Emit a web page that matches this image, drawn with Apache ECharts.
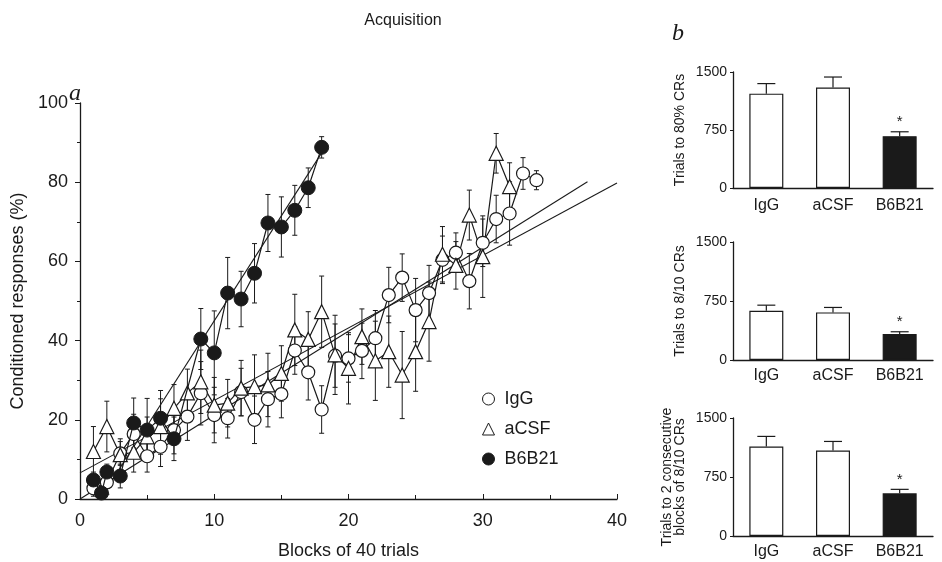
<!DOCTYPE html>
<html><head><meta charset="utf-8">
<script src="https://cdn.jsdelivr.net/npm/echarts@6/dist/echarts.min.js"></script>
<style>html,body{margin:0;padding:0;background:#fff}#c{width:942px;height:562px}</style>
</head><body><div id="c"></div>
<script>
// ---- Panel a: acquisition curves ----
const igGX   = [1,2,3,4,5,6,7,8,9,10,11,12,13,14,15,16,17,18,19,20,21,22,23,24,25,26,27,28,29,30,31,32,33,34];
const igGY   = [2.7,4.2,11.5,16.4,10.8,13.2,17.4,20.8,26.7,21.2,20.4,27,20,25.2,26.5,37.5,32,22.6,36.2,35.5,37.4,40.6,51.5,55.9,47.7,52,60.4,62.2,55,64.7,70.7,72.1,82.2,80.5];
const igGErr = [2,3,3,5,4,5,6,6,8,7,5,6,6,7,6,6,7,6,8,6,7,7,7,6,8,7,6,5,7,6,6,8,4,2.4];

const acsfX   = [1,2,3,4,5,6,7,8,9,10,11,12,13,14,15,16,17,18,19,20,21,22,23,24,25,26,27,28,29,30,31,32];
const acsfY   = [12,18.3,11.2,11.8,15.7,18.3,22.9,26.8,29.6,23.7,24.2,28,28.4,28.8,31.7,42.7,40.3,47.3,36.4,33,41,34.9,37.2,31.3,37.2,44.8,61.8,59,71.7,61.2,87.3,78.9];
const acsfErr = [6.3,6.4,4,5,5,7,6,6,8,7,6,7,8,8,7,9,7,9,10,9,7,10,9,11,10,10,7,6,6.3,10.3,5,6];

const b6X   = [1,1.6,2,3,4,5,6,7,9,10,11,12,13,14,15,16,17,18];
const b6Y   = [4.8,1.5,6.8,5.8,19.2,17.4,20.4,15.2,40.4,36.9,52,50.5,57,69.7,68.7,72.9,78.6,88.8];
const b6Err = [2,1.5,2,3,6.3,8,7,5.5,7.7,10.6,9,7,7.5,7.2,7.6,6.3,5,2.7];

// regression fits: [intercept, slope, xStart, xEnd]
const fitIgG  = [0.0, 2.12, 0, 37.8];
const fitAcsf = [6.6, 1.83, 0, 40];
const fitB6   = [-8.0, 5.3, 1.5, 18];

const xTicks = [0, 10, 20, 30, 40];
const yTicks = [0, 20, 40, 60, 80, 100];

// ---- Panel b: bar charts ----
const barCats   = ['IgG', 'aCSF', 'B6B21'];
const trials80  = [1220, 1300, 670];
const err80     = [130, 135, 57];
const trials810 = [625, 605, 330];
const err810    = [72, 63, 29];
const trials2x  = [1138, 1087, 542];
const err2x     = [128, 115, 51];
const signif    = [0, 0, 1];
const barTicks  = [0, 750, 1500];

const FONT = '"Liberation Sans", Arial, Helvetica, sans-serif';
const INK = '#1a1a1a';

function zip(xs, ys) { return xs.map((x, i) => [x, ys[i]]); }
function zip3(xs, ys, es) { return xs.map((x, i) => [x, ys[i], es[i]]); }
function fitLine(f) { return [[f[2], f[0] + f[1] * f[2]], [f[3], f[0] + f[1] * f[3]]]; }

function errRender(capHalf) {
  return function (params, api) {
    const x = api.value(0), y = api.value(1), e = api.value(2);
    const t = api.coord([x, y + e]), b = api.coord([x, Math.max(0, y - e)]);
    const st = { stroke: INK, lineWidth: 1 };
    return { type: 'group', children: [
      { type: 'line', shape: { x1: t[0], y1: t[1], x2: b[0], y2: b[1] }, style: st },
      { type: 'line', shape: { x1: t[0] - capHalf, y1: t[1], x2: t[0] + capHalf, y2: t[1] }, style: st },
      { type: 'line', shape: { x1: b[0] - capHalf, y1: b[1], x2: b[0] + capHalf, y2: b[1] }, style: st }
    ]};
  };
}
function barErrRender(params, api) {
  const x = api.value(0), y = api.value(1), e = api.value(2), s = api.value(3);
  const t = api.coord([x, y + e]), b = api.coord([x, y]);
  const st = { stroke: INK, lineWidth: 1.2 };
  const ch = [
    { type: 'line', shape: { x1: t[0], y1: t[1], x2: b[0], y2: b[1] }, style: st },
    { type: 'line', shape: { x1: t[0] - 9, y1: t[1], x2: t[0] + 9, y2: t[1] }, style: st }
  ];
  if (s) ch.push({ type: 'text', x: t[0], y: t[1] - 2, style: { text: '*', fill: INK, font: '15px ' + FONT, align: 'center', verticalAlign: 'bottom' } });
  return { type: 'group', children: ch };
}

const chart = echarts.init(document.getElementById('c'), null, { renderer: 'canvas' });

const grids = [
  { left: 80, top: 103, width: 537, height: 396, outerBoundsMode: 'none', containLabel: false },
  { left: 733, top: 72, width: 200, height: 116, outerBoundsMode: 'none', containLabel: false },
  { left: 733, top: 242, width: 200, height: 118, outerBoundsMode: 'none', containLabel: false },
  { left: 733, top: 418, width: 200, height: 118, outerBoundsMode: 'none', containLabel: false }
];

const axLine = { show: true, lineStyle: { color: INK, width: 1.3 } };

const xAxes = [{
  type: 'value', gridIndex: 0, min: xTicks[0], max: xTicks[xTicks.length - 1], interval: 10,
  axisLine: axLine, axisTick: { show: true, inside: true, length: 5, lineStyle: { color: INK } },
  minorTick: { show: true, splitNumber: 2, length: 4, lineStyle: { color: INK } },
  splitLine: { show: false },
  axisLabel: { fontSize: 18, color: INK, fontFamily: FONT, margin: 13 },
  name: 'Blocks of 40 trials', nameLocation: 'middle', nameGap: 43,
  nameTextStyle: { fontSize: 18, color: INK, fontFamily: FONT }
}];
const yAxes = [{
  type: 'value', gridIndex: 0, min: yTicks[0], max: yTicks[yTicks.length - 1], interval: 20,
  axisLine: axLine, axisTick: { show: true, length: 5, lineStyle: { color: INK } },
  minorTick: { show: true, splitNumber: 2, length: 3, lineStyle: { color: INK } },
  splitLine: { show: false },
  axisLabel: { fontSize: 18, color: INK, fontFamily: FONT, margin: 12 },
  name: 'Conditioned responses (%)', nameLocation: 'middle', nameGap: 48, nameRotate: 90,
  nameTextStyle: { fontSize: 18, color: INK, fontFamily: FONT }
}];
const barNames = ['Trials to 80% CRs', 'Trials to 8/10 CRs', 'Trials to 2 consecutive\nblocks of 8/10 CRs'];
for (let g = 1; g <= 3; g++) {
  xAxes.push({
    type: 'category', gridIndex: g, data: barCats,
    axisLine: axLine, axisTick: { show: false },
    axisLabel: { fontSize: 16, color: INK, fontFamily: FONT, margin: g === 1 ? 10 : 8 }
  });
  yAxes.push({
    type: 'value', gridIndex: g, min: barTicks[0], max: barTicks[2], interval: 750,
    axisLine: axLine, axisTick: { show: true, length: 3, lineStyle: { color: INK } },
    splitLine: { show: false },
    axisLabel: { fontSize: 14, color: INK, fontFamily: FONT, margin: 6, formatter: v => String(v) },
    name: barNames[g - 1], nameLocation: 'middle', nameRotate: 90, nameGap: 46,
    nameTextStyle: { fontSize: 14, color: INK, fontFamily: FONT, lineHeight: 13 }
  });
}

const lineStyle = { color: INK, width: 1.2 };
const series = [];
// regression lines
[fitIgG, fitAcsf, fitB6].forEach(f => series.push({
  type: 'line', xAxisIndex: 0, yAxisIndex: 0, data: fitLine(f), showSymbol: false, silent: true,
  lineStyle: { color: INK, width: 1.1 }, z: 1
}));
// error bars
[[igGX, igGY, igGErr], [acsfX, acsfY, acsfErr], [b6X, b6Y, b6Err]].forEach(d => series.push({
  type: 'custom', xAxisIndex: 0, yAxisIndex: 0, renderItem: errRender(2.5),
  data: zip3(d[0], d[1], d[2]), encode: { x: 0, y: 1 }, silent: true, z: 2
}));
series.push({
  name: 'IgG', type: 'line', xAxisIndex: 0, yAxisIndex: 0, data: zip(igGX, igGY),
  symbol: 'circle', symbolSize: 13, lineStyle, itemStyle: { color: '#fff', borderColor: INK, borderWidth: 1.2 }, z: 4
});
series.push({
  name: 'aCSF', type: 'line', xAxisIndex: 0, yAxisIndex: 0, data: zip(acsfX, acsfY),
  symbol: 'triangle', symbolSize: 14, lineStyle, itemStyle: { color: '#fff', borderColor: INK, borderWidth: 1.2 }, z: 4
});
series.push({
  name: 'B6B21', type: 'line', xAxisIndex: 0, yAxisIndex: 0, data: zip(b6X, b6Y),
  symbol: 'circle', symbolSize: 14, lineStyle, itemStyle: { color: INK, borderColor: INK, borderWidth: 1 }, z: 5
});

const barSets = [[trials80, err80], [trials810, err810], [trials2x, err2x]];
barSets.forEach((bs, k) => {
  const g = k + 1;
  series.push({
    type: 'bar', xAxisIndex: g, yAxisIndex: g, barWidth: 34, silent: true,
    data: bs[0].map((v, i) => ({ value: v, itemStyle: { color: i === 2 ? INK : '#fff', borderColor: INK, borderWidth: 1.2 } })),
    z: 2
  });
  series.push({
    type: 'custom', xAxisIndex: g, yAxisIndex: g, renderItem: barErrRender, silent: true,
    data: bs[0].map((v, i) => [i, v, bs[1][i], signif[i]]), encode: { x: 0, y: 1 }, z: 3
  });
});

chart.setOption({
  animation: false,
  backgroundColor: '#fff',
  title: { text: 'Acquisition', left: 398, top: 8, textAlign: 'center',
    textStyle: { fontSize: 16, fontWeight: 'normal', color: INK, fontFamily: FONT } },
  legend: {
    orient: 'vertical', left: 477, top: 385, itemGap: 12, itemWidth: 12, itemHeight: 12,
    selectedMode: false,
    textStyle: { fontSize: 18, color: INK, fontFamily: FONT, padding: [0, 0, 0, 5] },
    data: [
      { name: 'IgG', icon: 'circle', itemStyle: { color: '#fff', borderColor: INK, borderWidth: 1 } },
      { name: 'aCSF', icon: 'triangle', itemStyle: { color: '#fff', borderColor: INK, borderWidth: 1 } },
      { name: 'B6B21', icon: 'circle', itemStyle: { color: INK, borderColor: INK, borderWidth: 1 } }
    ]
  },
  graphic: [
    { type: 'text', left: 69, top: 82, style: { text: 'a', font: 'italic 24px "Liberation Serif", "Times New Roman", serif', fill: INK } },
    { type: 'text', left: 672, top: 22, style: { text: 'b', font: 'italic 24px "Liberation Serif", "Times New Roman", serif', fill: INK } }
  ],
  grid: grids,
  xAxis: xAxes,
  yAxis: yAxes,
  series
});
</script>
</body></html>
